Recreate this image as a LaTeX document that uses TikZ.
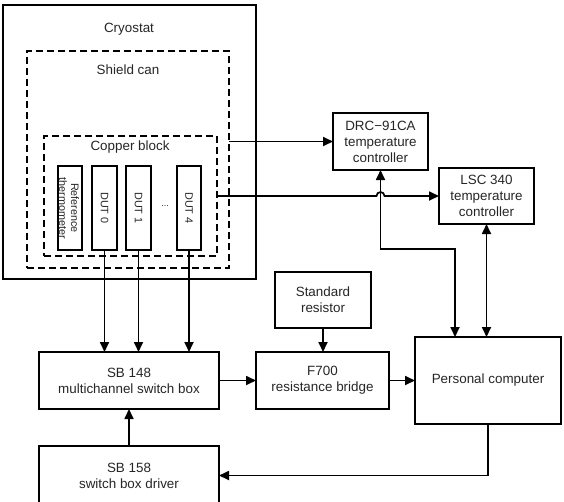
\documentclass[tikz,border=0pt]{standalone}
\usepackage{fontspec}
\setmainfont{Liberation Sans}
\usetikzlibrary{arrows.meta,calc}
\begin{document}
\begin{tikzpicture}[x=1pt,y=-1pt,
  every node/.style={inner sep=0pt,outer sep=0pt,text=black!85},
  box/.style 2 args={draw,line width=1.7pt,align=center,minimum width=#1,minimum height=#2,
    font=\fontsize{13.4}{16}\selectfont},
  dbox/.style 2 args={draw,line width=1.7pt,dash pattern=on 7pt off 4pt,minimum width=#1,minimum height=#2},
  sbox/.style 2 args={draw,line width=1.5pt,minimum width=#1,minimum height=#2},
  lbl/.style={font=\fontsize{13.4}{16}\selectfont},
  vlbl/.style={rotate=-90,align=center,font=\fontsize{10.8}{12}\selectfont},
  conn/.style={line width=1.7pt,-{Triangle[length=10pt,width=9pt]}},
  dconn/.style={line width=1.7pt,{Triangle[length=10pt,width=9pt]}-{Triangle[length=10pt,width=9pt]}}
]
\useasboundingbox (0,0) rectangle (564,501);
\clip (0,0) rectangle (564,501);
\fill[white] (0,0) rectangle (564,501);

% Cryostat nested boxes
\node[box={253pt}{274pt}] (cryo) at (129.5,142) {};
\node[lbl] (tcryo) at (129,29) {Cryostat};
\node[dbox={202pt}{217pt}] (shield) at (128,159.5) {};
\node[lbl] (tshield) at (128,70) {Shield can};
\node[dbox={173pt}{120pt}] (copper) at (130.5,196) {};
\node[lbl] (tcopper) at (130,147) {Copper block};

% sensors
\node[sbox={24pt}{84pt}] (ref) at (70,208) {};
\node[vlbl] (tref) at (69,208) {Reference\\thermometer};
\node[sbox={25pt}{84pt}] (dut0) at (104.5,208) {};
\node[vlbl] (tdut0) at (dut0) {DUT 0};
\node[sbox={25pt}{84pt}] (dut1) at (138.5,208) {};
\node[vlbl] (tdut1) at (dut1) {DUT 1};
\node[font=\fontsize{9}{10}\selectfont] (dots) at (165,206) {...};
\node[sbox={24pt}{84pt}] (dut4) at (189,208) {};
\node[vlbl] (tdut4) at (dut4) {DUT 4};

% instruments
\node[box={95pt}{57pt}] (drc) at (380.5,141.5) {DRC−91CA\\temperature\\controller};
\node[box={95pt}{56pt}] (lsc) at (486.5,196) {LSC 340\\temperature\\controller};
\node[box={96pt}{56pt}] (std) at (323,300) {Standard\\resistor};
\node[box={180pt}{57pt}] (sb148) at (129,380.5) {SB 148\\multichannel switch box};
\node[box={133pt}{57pt}] (f700) at (322.5,380.5) {F700\\resistance bridge};
\node[box={146pt}{87pt}] (pc) at (488,380.5) {Personal computer};
\node[box={180pt}{59pt}] (sb158) at (129,475.5) {SB 158\\switch box driver};

% connectors
\draw[conn] (dut0.south) -- (dut0.south |- sb148.north);
\draw[conn] (dut1.south) -- (dut1.south |- sb148.north);
\draw[conn] (dut4.south) -- (dut4.south |- sb148.north);

\draw[conn] (drc.west -| shield.east) -- (drc.west);
\draw[conn] (copper.east) -- ($(drc.south |- copper.east)+(-4,0)$)
  arc[start angle=180,end angle=360,radius=4] -- (lsc.west);

\coordinate (bend) at (455,249);
\draw[dconn] (drc.south) |- (bend) -- (bend |- pc.north);
\draw[dconn] (lsc.south) -- (lsc.south |- pc.north);

\draw[conn] (std.south) -- (std.south |- f700.north);
\draw[conn] (sb148.east) -- (f700.west);
\draw[conn] (f700.east) -- (f700.east -| pc.west);
\draw[conn] (sb158.north) -- (sb148.south);
\draw[conn] (pc.south) |- (sb158.east);
\end{tikzpicture}
\end{document}
